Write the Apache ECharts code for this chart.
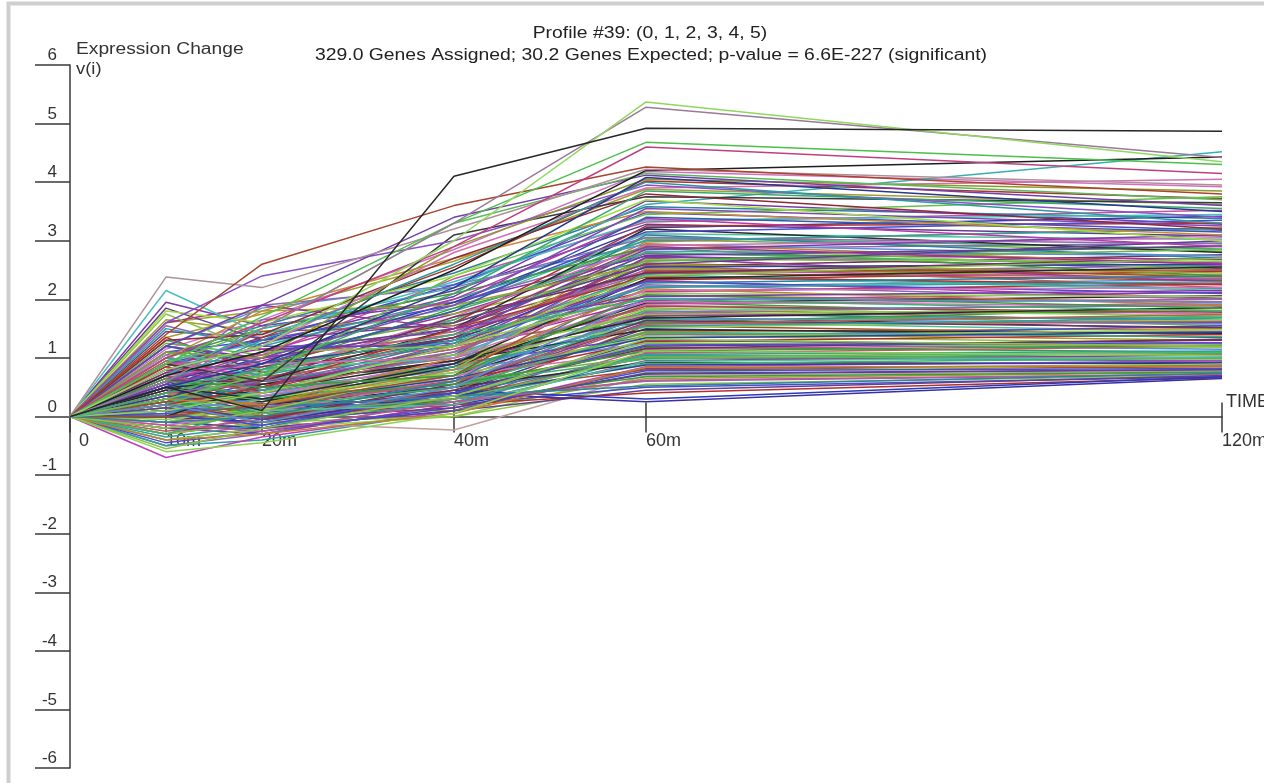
<!DOCTYPE html>
<html>
<head>
<meta charset="utf-8">
<script src="https://cdn.jsdelivr.net/npm/echarts@6/dist/echarts.min.js"></script>
<style>html,body{margin:0;padding:0;background:#fff}#chart{width:1264px;height:783px}</style>
</head>
<body>
<div id="chart"></div>
<script>
// Time points (minutes) and their tick labels
const times = [0, 10, 20, 40, 60, 120];
const timeLabels = ['0', '10m', '20m', '40m', '60m', '120m'];

const titleLine1 = 'Profile #39: (0, 1, 2, 3, 4, 5)';
const titleLine2 = '329.0 Genes Assigned; 30.2 Genes Expected; p-value = 6.6E-227 (significant)';

// Gene profiles, values at 0,10,20,40,60,120m
const highProfiles = [
  [0, 0.5, 0.1, 4.1, 4.92, 4.87],
  [0, 0.8, 1.2, 3.0, 5.37, 4.35],
  [0, 0.6, 1.5, 3.3, 5.28, 4.42],
  [0, 0.9, 1.7, 3.3, 4.68, 4.3],
  [0, 1.0, 1.6, 2.9, 4.6, 4.15],
  [0, 1.4, 2.6, 3.6, 4.26, 3.8],
  [0, 2.38, 2.2, 3.2, 4.22, 3.95],
  [0, 0.7, 1.1, 2.5, 4.2, 4.43],
  [0, 0.9, 1.5, 3.3, 4.15, 3.7],
  [0, 1.2, 1.9, 3.4, 4.12, 3.6],
  [0, 0.5, 0.9, 2.2, 4.08, 3.5],
  [0, 1.1, 1.0, 2.9, 4.05, 3.85],
  [0, 0.6, 1.3, 2.6, 4.0, 3.3],
  [0, 1.6, 2.4, 3.0, 3.95, 3.4],
  [0, 0.8, 1.2, 2.8, 3.9, 4.05],
  [0, 0.4, 0.8, 2.1, 3.85, 3.55],
  [0, 1.3, 1.4, 2.7, 3.8, 3.2],
  [0, 0.9, 0.6, 3.1, 3.75, 3.65],
  [0, 1.8, 1.6, 2.4, 3.7, 3.0],
  [0, 0.7, 1.5, 2.2, 3.62, 4.52],
  [0, 0.5, 1.0, 1.9, 3.55, 3.25],
  [0, 1.0, 1.8, 2.7, 3.5, 3.1],
  [0, 0.3, 0.7, 2.4, 3.45, 3.75],
  [0, 1.2, 0.9, 1.8, 3.4, 3.15],
  [0, 0.6, 1.1, 2.0, 3.38, 2.9],
  [0, 2.15, 1.4, 2.3, 3.35, 3.45]
];
const highColors = ['#262626','#8fd860','#9a7a9a','#4cbf4c','#c0407f','#a8442c','#b09098','#1e1e1e','#5cb85c','#7040a8',
  '#28388c','#8c9a2a','#2a9a9a','#8a50c8','#d070b0','#3aa86a','#8a2a3a','#3a3a3a','#a0dc40','#38b0b0',
  '#8048b8','#c88a38','#68c048','#3858a8','#b83aa8','#48c0c0'];

const midProfiles = [
  [0, 0.8, 0.9, 1.6, 3.25, 3.3],
  [0, 0.5, 0.6, 1.5, 3.2, 2.8],
  [0, 1.1, 1.3, 1.9, 3.15, 3.35],
  [0, 0.3, 0.5, 1.3, 3.1, 2.7],
  [0, 0.7, 1.9, 2.2, 3.05, 2.95],
  [0, 1.5, 1.2, 2.0, 3.0, 3.2],
  [0, 0.4, 0.2, 1.0, 2.95, 2.6],
  [0, 0.9, 0.7, 1.7, 2.92, 3.05],
  [0, 0.2, 0.4, 1.2, 2.9, 2.5],
  [0, 1.0, 1.5, 2.1, 2.88, 2.4],
  [0, 0.6, 0.8, 1.4, 2.85, 3.1],
  [0, 0.1, 0.3, 0.9, 2.82, 2.75],
  [0, 1.3, 0.9, 1.8, 2.8, 2.55],
  [0, 0.5, 1.1, 1.5, 2.75, 2.9],
  [0, 0.8, 0.5, 1.2, 2.7, 2.3],
  [0, -0.2, 0.1, 0.8, 2.68, 2.65],
  [0, 0.4, 0.7, 1.6, 2.65, 2.85],
  [0, 1.6, 1.8, 1.9, 2.6, 2.45],
  [0, 0.7, 0.4, 1.1, 2.58, 2.2],
  [0, 0.3, 0.9, 1.3, 2.55, 2.6],
  [0, 0.9, 1.0, 1.4, 2.5, 2.35],
  [0, 0.0, 0.2, 0.7, 2.48, 2.5],
  [0, 0.6, 0.6, 1.7, 2.45, 2.7],
  [0, 1.1, 0.8, 1.0, 2.4, 2.15],
  [0, 0.2, 0.5, 1.5, 2.38, 2.25],
  [0, 0.5, 0.3, 0.9, 2.35, 2.55],
  [0, 0.8, 1.2, 1.2, 2.3, 2.1],
  [0, -0.1, 0.0, 0.6, 2.28, 2.4],
  [0, 0.4, 0.6, 1.1, 2.25, 2.0],
  [0, 1.0, 0.7, 1.3, 2.2, 2.3],
  [0, 0.3, 0.2, 0.8, 2.18, 1.9],
  [0, 0.7, 0.9, 1.0, 2.15, 2.2],
  [0, 0.1, 0.4, 1.2, 2.1, 2.05],
  [0, 0.6, 0.5, 0.7, 2.08, 1.85],
  [0, 1.2, 1.0, 1.5, 2.05, 2.15],
  [0, 0.2, -0.1, 0.5, 2.02, 1.95],
  [0, 0.5, 0.8, 1.4, 2.0, 1.8],
  [0, 1.85, 1.3, 1.6, 2.6, 3.0],
  [0, 1.6, 1.9, 1.5, 2.9, 2.6],
  [0, 1.75, 1.1, 1.2, 2.4, 2.7]
];

const lowProfiles = [
  [0, 0.3, 0.4, 0.9, 1.95, 1.7],
  [0, 0.6, 0.2, 0.6, 1.92, 2.0],
  [0, -0.2, 0.1, 0.7, 1.9, 1.75],
  [0, 0.8, 0.6, 1.0, 1.85, 1.6],
  [0, 0.1, 0.3, 0.5, 1.82, 1.9],
  [0, 0.5, 0.7, 0.8, 1.8, 1.55],
  [0, -0.4, -0.2, 0.4, 1.75, 1.65],
  [0, 0.4, 0.2, 0.9, 1.72, 1.8],
  [0, 0.9, 0.5, 0.7, 1.7, 1.5],
  [0, 0.2, 0.0, 0.6, 1.65, 1.7],
  [0, 0.0, 0.4, 0.8, 1.62, 1.45],
  [0, 0.7, 0.3, 0.5, 1.6, 1.6],
  [0, -0.3, -0.1, 0.3, 1.55, 1.4],
  [0, 0.3, 0.5, 1.1, 1.52, 1.65],
  [0, 0.6, 0.1, 0.4, 1.5, 1.35],
  [0, 0.1, -0.2, 0.5, 1.45, 1.5],
  [0, 1.0, 0.6, 0.6, 1.42, 1.3],
  [0, -0.5, -0.3, 0.2, 1.4, 1.45],
  [0, 0.4, 0.3, 0.7, 1.38, 1.25],
  [0, 0.2, 0.6, 0.9, 1.35, 1.55],
  [0, 0.5, 0.0, 0.3, 1.3, 1.2],
  [0, -0.1, 0.2, 0.6, 1.28, 1.4],
  [0, 0.8, 0.4, 0.8, 1.25, 1.15],
  [0, 0.0, -0.1, 0.4, 1.2, 1.3],
  [0, 0.3, 0.1, 0.5, 1.18, 1.1],
  [0, -0.3, 0.0, 0.2, 1.15, 1.25],
  [0, 0.6, 0.5, 0.7, 1.1, 1.05],
  [0, 0.1, 0.2, 0.3, 1.08, 1.2],
  [0, -0.5, -0.4, 0.1, 1.05, 1.0],
  [0, 0.4, 0.0, 0.6, 1.02, 1.1],
  [0, 0.2, 0.3, 0.4, 1.0, 0.95],
  [0, -0.2, -0.3, 0.2, 0.95, 1.05],
  [0, 0.7, 0.2, 0.5, 0.92, 0.9],
  [0, 0.0, 0.1, 0.3, 0.9, 1.0],
  [0, -0.7, -0.35, 0.1, 0.85, 0.95],
  [0, 0.3, -0.2, 0.1, 0.82, 0.88],
  [0, 0.1, 0.0, 0.4, 0.8, 0.85],
  [0, -0.4, -0.2, 0.0, 0.75, 0.9],
  [0, 0.5, 0.3, 0.2, 0.72, 0.8],
  [0, 0.2, -0.1, -0.23, 0.7, 0.78],
  [0, -0.1, 0.1, 0.1, 0.65, 0.75],
  [0, 0.0, -0.3, 0.3, 0.6, 0.72],
  [0, -0.3, -0.1, 0.0, 0.55, 0.7],
  [0, 0.3, 0.2, 0.2, 0.5, 0.68],
  [0, -0.2, -0.2, 0.1, 0.45, 0.7],
  [0, 0.1, 0.0, 0.2, 0.4, 0.66],
  [0, -0.1, -0.2, 0.45, 0.3, 0.68],
  [0, 0.0, -0.1, 0.4, 0.25, 0.65],
  [0, 0.4, 0.6, 1.3, 1.6, 1.85],
  [0, 0.9, 0.8, 1.2, 1.75, 1.95]
];

const extraProfiles = [
  [0, 0.45, 0.55, 1.05, 2.72, 2.62],
  [0, 0.15, 0.35, 0.85, 2.52, 2.42],
  [0, 0.65, 0.45, 1.25, 2.33, 2.48],
  [0, -0.15, 0.05, 0.65, 2.12, 2.28],
  [0, 0.35, 0.65, 1.15, 1.98, 2.12],
  [0, 0.85, 0.55, 0.95, 1.88, 1.78],
  [0, 0.05, 0.25, 0.55, 1.78, 1.92],
  [0, 0.55, 0.35, 0.75, 1.68, 1.58],
  [0, -0.25, -0.05, 0.45, 1.58, 1.62],
  [0, 0.25, 0.45, 0.95, 1.48, 1.42],
  [0, 0.75, 0.25, 0.65, 1.36, 1.48],
  [0, -0.05, 0.15, 0.35, 1.26, 1.18],
  [0, 0.45, 0.05, 0.45, 1.16, 1.32],
  [0, -0.35, -0.15, 0.25, 1.06, 1.12],
  [0, 0.15, 0.35, 0.55, 0.98, 1.08],
  [0, 0.55, 0.15, 0.35, 0.88, 0.92],
  [0, -0.45, -0.25, 0.15, 0.78, 0.82],
  [0, 0.25, 0.05, 0.25, 0.68, 0.76],
  [0, 1.25, 1.05, 1.65, 3.02, 2.82],
  [0, 0.95, 1.25, 1.85, 3.12, 3.02],
  [0, 0.35, 0.85, 1.45, 2.98, 3.22],
  [0, 1.45, 1.35, 2.15, 3.28, 3.08],
  [0, 0.75, 1.05, 2.35, 3.32, 3.52],
  [0, 1.05, 1.55, 2.45, 3.58, 3.38],
  [0, 0.55, 1.25, 2.05, 3.68, 3.28],
  [0, 1.35, 1.75, 2.65, 3.88, 3.62],
  [0, 0.85, 1.35, 2.55, 4.02, 3.72],
  [0, 1.15, 1.65, 2.85, 4.18, 3.92],
  [0, 0.65, 0.95, 1.75, 2.78, 2.68],
  [0, 0.25, 0.65, 1.35, 2.62, 2.38],
  [0, 1.55, 1.15, 1.45, 2.44, 2.58],
  [0, 0.05, 0.45, 1.05, 2.22, 2.34],
  [0, 0.95, 0.65, 1.15, 2.06, 1.96],
  [0, 0.45, 0.25, 0.85, 1.94, 2.06],
  [0, -0.1, 0.3, 0.75, 1.84, 1.72],
  [0, 0.6, 0.75, 1.05, 1.74, 1.84],
  [0, 0.2, -0.05, 0.55, 1.64, 1.52],
  [0, 0.8, 0.45, 0.85, 1.54, 1.68],
  [0, -0.3, 0.15, 0.5, 1.44, 1.36],
  [0, 0.35, 0.2, 0.65, 1.34, 1.44],
  [0, 0.05, -0.15, 0.4, 1.22, 1.26],
  [0, 0.65, 0.3, 0.55, 1.12, 1.22],
  [0, -0.2, 0.05, 0.3, 1.02, 0.98],
  [0, 0.3, 0.1, 0.2, 0.94, 1.02],
  [0, -0.4, -0.3, 0.05, 0.84, 0.86],
  [0, 0.15, -0.05, 0.15, 0.74, 0.8],
  [0, -0.15, -0.25, 0.25, 0.62, 0.72],
  [0, 0.1, 0.15, 0.35, 0.52, 0.74],
  [0, 1.95, 1.55, 1.95, 2.74, 2.52],
  [0, 1.65, 1.45, 1.75, 2.54, 2.36],
  [0, 1.35, 0.75, 1.35, 2.14, 2.26],
  [0, 1.05, 0.35, 0.95, 1.96, 1.88],
  [0, 0.9, 1.15, 1.25, 2.32, 2.02],
  [0, 0.7, 1.45, 1.55, 2.46, 2.32],
  [0, 0.4, 1.65, 1.95, 2.86, 2.96],
  [0, 1.2, 1.85, 2.25, 2.94, 2.74],
  [0, 0.5, 0.15, 0.6, 1.58, 1.74],
  [0, 0.0, 0.55, 0.95, 1.68, 1.86],
  [0, -0.6, -0.45, 0.05, 1.12, 1.04],
  [0, -0.55, -0.2, 0.35, 1.32, 1.2],
  [0, 0.75, 0.85, 1.35, 2.56, 2.76],
  [0, 0.3, 0.4, 1.25, 2.42, 2.18],
  [0, 0.2, 0.75, 1.65, 3.06, 2.86],
  [0, 0.6, 1.0, 1.95, 3.22, 3.42],
  [0, 0.9, 1.3, 2.25, 3.48, 3.18],
  [0, 1.1, 0.8, 1.85, 2.66, 2.92]
];

const palette = ['#3c9b3c','#a0309a','#2f3f9f','#b03030','#30a0a0','#7a3aa8','#8bc34a','#c0559a','#2a2a2a','#c08030',
  '#5a8fd0','#6ab04c','#9b4f2f','#4b4bd0','#d070c0','#40b070','#a0a030','#703060','#3080a0','#90d050',
  '#604090','#b06060','#50c0a0','#8a6ab0'];
const lowColorsTail = { 46: '#2a3ab8', 47: '#3a30a0', 34: '#c040c0', 39: '#c0a0a0' };

const chart = echarts.init(document.getElementById('chart'), null, { renderer: 'canvas' });

function mkSeries(profile, color) {
  return {
    type: 'line',
    xAxisIndex: 0,
    yAxisIndex: 0,
    symbol: 'none',
    silent: true,
    animation: false,
    lineStyle: { width: 1.5, color: color },
    data: times.map((t, i) => [t, profile[i]])
  };
}

const series = [];
lowProfiles.forEach((p, i) => series.push(mkSeries(p, lowColorsTail[i] || palette[(i * 7) % palette.length])));
extraProfiles.forEach((p, i) => series.push(mkSeries(p, palette[(i * 11 + 5) % palette.length])));
midProfiles.forEach((p, i) => series.push(mkSeries(p, palette[(i * 5 + 3) % palette.length])));
highProfiles.slice().reverse().forEach((p, i) => series.push(mkSeries(p, highColors[highProfiles.length - 1 - i])));

const axisColor = '#3a3a3a';
const font = '"Liberation Sans", Arial, sans-serif';
// grid: top 65, bottom 15 -> plot height 703, zero line sits half way
const zeroOffset = -351.5;

const option = {
  backgroundColor: '#fff',
  animation: false,
  grid: { left: 70, right: 42, top: 65, bottom: 15, containLabel: false, outerBoundsMode: 'none' },
  xAxis: [{
    type: 'value', min: 0, max: 120, position: 'bottom', offset: zeroOffset,
    axisLine: { show: true, onZero: false, lineStyle: { color: axisColor, width: 1.5 } },
    axisTick: { show: true, inside: false, length: 16, lineStyle: { color: axisColor, width: 1.5 }, customValues: times },
    axisLabel: {
      show: true, customValues: times, align: 'left', margin: 16,
      color: '#333', fontFamily: font, fontSize: 18,
      formatter: function (v) { const k = times.indexOf(v); return k === 0 ? '{z|' + timeLabels[k] + '}' : timeLabels[k]; },
      rich: { z: { padding: [0, 0, 0, 9], fontSize: 18, fontFamily: font, color: '#333' } }
    },
    splitLine: { show: false }
  }, {
    type: 'value', min: 0, max: 120, position: 'bottom', offset: zeroOffset,
    axisLine: { show: false, onZero: false },
    axisTick: { show: true, inside: true, length: 14, lineStyle: { color: axisColor, width: 1.5 }, customValues: times.slice(1) },
    axisLabel: { show: false },
    splitLine: { show: false }
  }],
  yAxis: {
    type: 'value', min: -6, max: 6, interval: 1,
    axisLine: { show: true, onZero: false, lineStyle: { color: axisColor, width: 1.5 } },
    axisTick: { show: true, inside: false, length: 35, lineStyle: { color: axisColor, width: 1.5 } },
    axisLabel: { show: true, margin: 13, verticalAlign: 'bottom', color: '#333', fontFamily: font, fontSize: 17, padding: [0, 0, 1, 0] },
    splitLine: { show: false }
  },
  graphic: [
    { type: 'rect', z: -10, silent: true, shape: { x: 8.5, y: 3.5, width: 1320, height: 830 }, style: { fill: 'none', stroke: '#cfcfcf', lineWidth: 4 } },
    { type: 'text', x: 650, y: 34, scaleX: 1.21, style: { text: titleLine1, x: 0, y: 0, align: 'center', verticalAlign: 'middle', fill: '#222', font: '16px ' + font } },
    { type: 'text', x: 651, y: 56, scaleX: 1.21, style: { text: titleLine2, x: 0, y: 0, align: 'center', verticalAlign: 'middle', fill: '#222', font: '16px ' + font } },
    { type: 'text', x: 76, y: 50, scaleX: 1.2, style: { text: 'Expression Change', x: 0, y: 0, align: 'left', verticalAlign: 'middle', fill: '#333', font: '16px ' + font } },
    { type: 'text', x: 76, y: 70, scaleX: 1.15, style: { text: 'v(i)', x: 0, y: 0, align: 'left', verticalAlign: 'middle', fill: '#333', font: '16px ' + font } },
    { type: 'text', x: 1226, y: 402, style: { text: 'TIME', x: 0, y: 0, align: 'left', verticalAlign: 'middle', fill: '#333', font: '18px ' + font } }
  ],
  series: series
};
chart.setOption(option);
</script>
</body>
</html>
